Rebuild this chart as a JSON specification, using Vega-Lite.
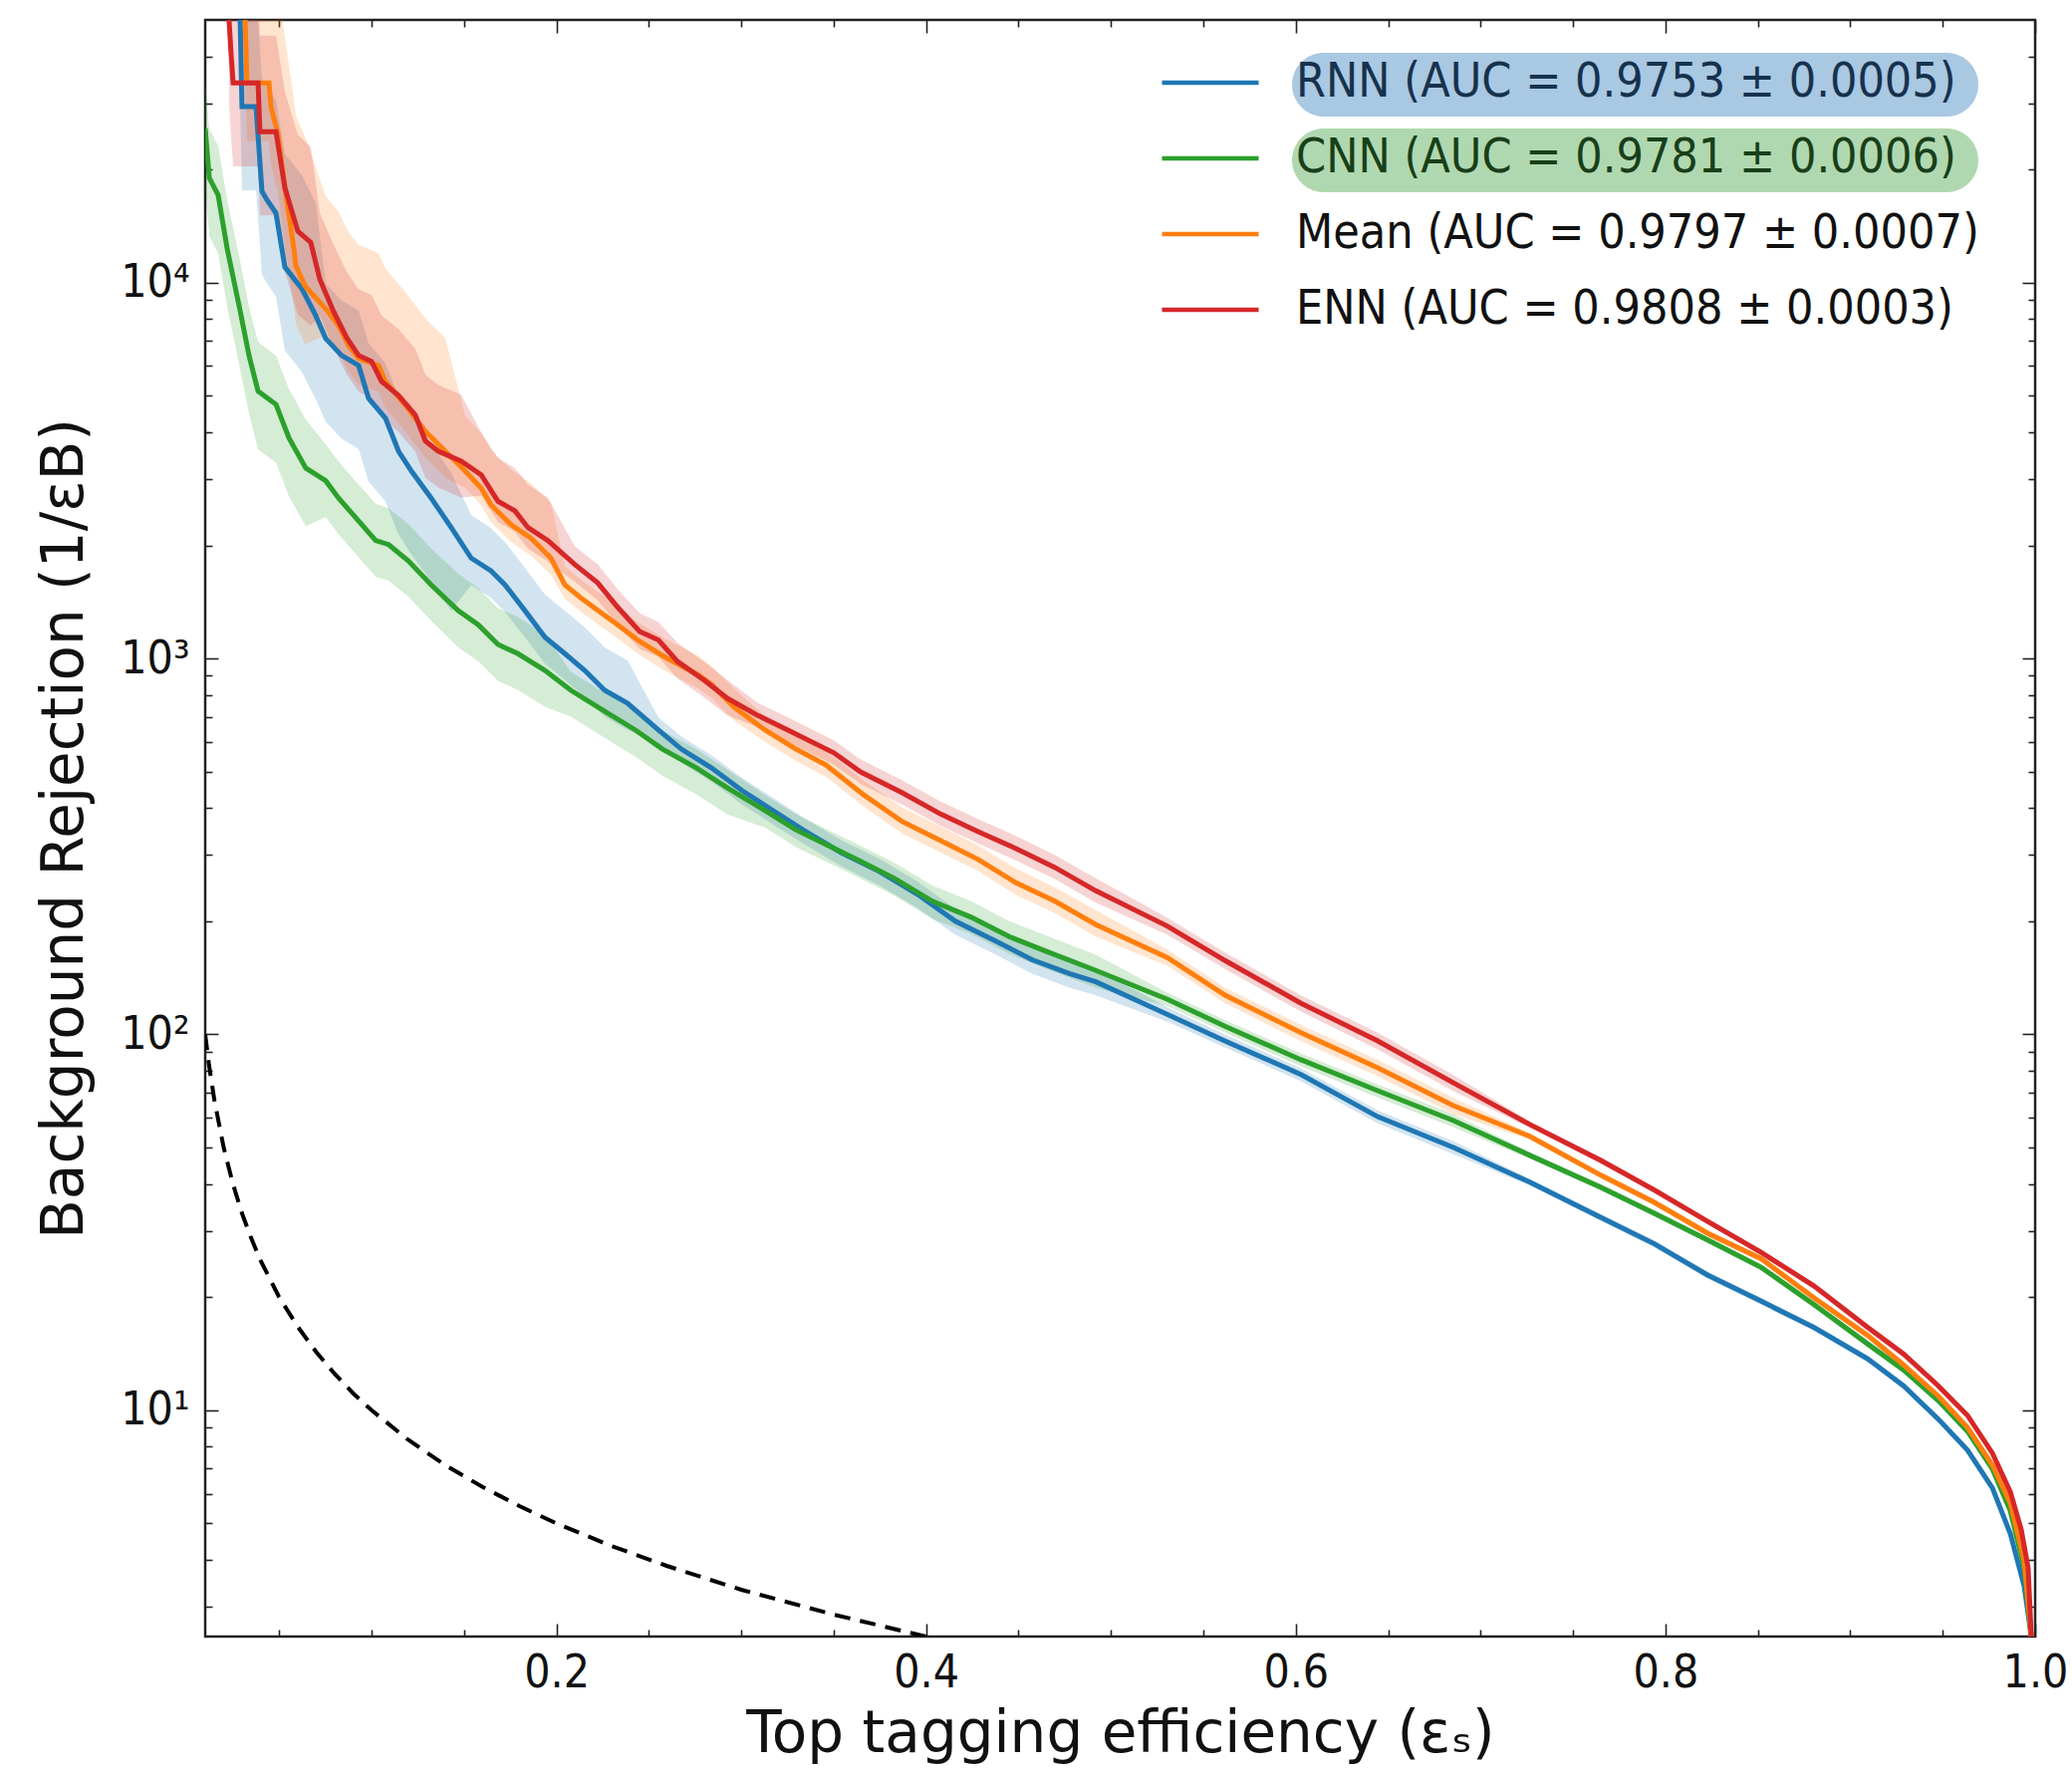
{
  "$schema": "https://vega.github.io/schema/vega-lite/v6.json",
  "width": 1837,
  "height": 1623,
  "autosize": {"type": "none"},
  "padding": {"left": 206, "top": 20, "right": 37, "bottom": 136},
  "background": "white",
  "datasets": {
    "roc": [
      {"model":"RNN","eff":0.0289,"rej":50000,"lo":30000,"hi":100000},
      {"model":"RNN","eff":0.0299,"rej":29400,"lo":17600,"hi":58800},
      {"model":"RNN","eff":0.0375,"rej":29400,"lo":17600,"hi":58800},
      {"model":"RNN","eff":0.0407,"rej":17500,"lo":10500,"hi":35000},
      {"model":"RNN","eff":0.0434,"rej":16600,"lo":9960,"hi":33200},
      {"model":"RNN","eff":0.0483,"rej":15300,"lo":9180,"hi":30600},
      {"model":"RNN","eff":0.0531,"rej":11000,"lo":6600,"hi":22000},
      {"model":"RNN","eff":0.0623,"rej":9630,"lo":5780,"hi":19300},
      {"model":"RNN","eff":0.0698,"rej":8170,"lo":4900,"hi":16300},
      {"model":"RNN","eff":0.0752,"rej":7100,"lo":4260,"hi":9940},
      {"model":"RNN","eff":0.0838,"rej":6400,"lo":3840,"hi":8960},
      {"model":"RNN","eff":0.0930,"rej":6020,"lo":3610,"hi":8430},
      {"model":"RNN","eff":0.0984,"rej":4920,"lo":2950,"hi":6890},
      {"model":"RNN","eff":0.1075,"rej":4360,"lo":2620,"hi":6100},
      {"model":"RNN","eff":0.1146,"rej":3560,"lo":2140,"hi":4980},
      {"model":"RNN","eff":0.1216,"rej":3150,"lo":1890,"hi":4410},
      {"model":"RNN","eff":0.1323,"rej":2670,"lo":1600,"hi":3740},
      {"model":"RNN","eff":0.1431,"rej":2230,"lo":1340,"hi":3120},
      {"model":"RNN","eff":0.1539,"rej":1850,"lo":1570,"hi":2410},
      {"model":"RNN","eff":0.1647,"rej":1710,"lo":1450,"hi":2220},
      {"model":"RNN","eff":0.1722,"rej":1570,"lo":1330,"hi":2040},
      {"model":"RNN","eff":0.1830,"rej":1340,"lo":1140,"hi":1740},
      {"model":"RNN","eff":0.1938,"rej":1140,"lo":969,"hi":1480},
      {"model":"RNN","eff":0.2046,"rej":1030,"lo":876,"hi":1340},
      {"model":"RNN","eff":0.2153,"rej":930,"lo":791,"hi":1210},
      {"model":"RNN","eff":0.2261,"rej":823,"lo":700,"hi":1070},
      {"model":"RNN","eff":0.2385,"rej":760,"lo":646,"hi":988},
      {"model":"RNN","eff":0.2552,"rej":645,"lo":593,"hi":697},
      {"model":"RNN","eff":0.2676,"rej":574,"lo":528,"hi":620},
      {"model":"RNN","eff":0.2838,"rej":512,"lo":471,"hi":553},
      {"model":"RNN","eff":0.3005,"rej":445,"lo":409,"hi":481},
      {"model":"RNN","eff":0.3172,"rej":394,"lo":362,"hi":426},
      {"model":"RNN","eff":0.3334,"rej":350,"lo":322,"hi":378},
      {"model":"RNN","eff":0.3538,"rej":305,"lo":281,"hi":329},
      {"model":"RNN","eff":0.3749,"rej":271,"lo":249,"hi":293},
      {"model":"RNN","eff":0.3953,"rej":236,"lo":217,"hi":255},
      {"model":"RNN","eff":0.4158,"rej":200,"lo":184,"hi":216},
      {"model":"RNN","eff":0.4368,"rej":178,"lo":164,"hi":192},
      {"model":"RNN","eff":0.4573,"rej":158,"lo":145,"hi":171},
      {"model":"RNN","eff":0.4778,"rej":145,"lo":133,"hi":157},
      {"model":"RNN","eff":0.4918,"rej":138,"lo":127,"hi":149},
      {"model":"RNN","eff":0.5306,"rej":113,"lo":108,"hi":118},
      {"model":"RNN","eff":0.5619,"rej":96,"lo":92.2,"hi":99.8},
      {"model":"RNN","eff":0.6028,"rej":78.2,"lo":75.1,"hi":81.3},
      {"model":"RNN","eff":0.6443,"rej":60.4,"lo":58.0,"hi":62.8},
      {"model":"RNN","eff":0.6853,"rej":50.0,"lo":48.0,"hi":52.0},
      {"model":"RNN","eff":0.7268,"rej":40.4,"lo":39.6,"hi":41.2},
      {"model":"RNN","eff":0.7650,"rej":32.6,"lo":31.9,"hi":33.3},
      {"model":"RNN","eff":0.7941,"rej":27.7,"lo":27.1,"hi":28.3},
      {"model":"RNN","eff":0.8227,"rej":22.9,"lo":22.4,"hi":23.4},
      {"model":"RNN","eff":0.8518,"rej":19.5,"lo":19.1,"hi":19.9},
      {"model":"RNN","eff":0.8804,"rej":16.6,"lo":16.3,"hi":16.9},
      {"model":"RNN","eff":0.9095,"rej":13.7,"lo":13.4,"hi":14.0},
      {"model":"RNN","eff":0.9289,"rej":11.6,"lo":11.4,"hi":11.8},
      {"model":"RNN","eff":0.9477,"rej":9.46,"lo":9.27,"hi":9.65},
      {"model":"RNN","eff":0.9634,"rej":7.83,"lo":7.67,"hi":7.99},
      {"model":"RNN","eff":0.9769,"rej":6.21,"lo":6.09,"hi":6.33},
      {"model":"RNN","eff":0.9866,"rej":4.69,"lo":4.60,"hi":4.78},
      {"model":"RNN","eff":0.9941,"rej":3.40,"lo":3.33,"hi":3.47},
      {"model":"RNN","eff":0.9979,"rej":2.5,"lo":2.45,"hi":2.55},
      {"model":"RNN","eff":1.0,"rej":1,"lo":1,"hi":1},

      {"model":"CNN","eff":0.0100,"rej":25700,"lo":18000,"hi":34700},
      {"model":"CNN","eff":0.0122,"rej":19000,"lo":13300,"hi":25700},
      {"model":"CNN","eff":0.0170,"rej":17100,"lo":12000,"hi":23100},
      {"model":"CNN","eff":0.0219,"rej":12300,"lo":8610,"hi":16600},
      {"model":"CNN","eff":0.0289,"rej":8420,"lo":5890,"hi":11400},
      {"model":"CNN","eff":0.0337,"rej":6400,"lo":4480,"hi":8640},
      {"model":"CNN","eff":0.0386,"rej":5140,"lo":3600,"hi":6940},
      {"model":"CNN","eff":0.0483,"rej":4740,"lo":3320,"hi":6400},
      {"model":"CNN","eff":0.0553,"rej":3860,"lo":2700,"hi":5210},
      {"model":"CNN","eff":0.0644,"rej":3210,"lo":2250,"hi":4330},
      {"model":"CNN","eff":0.0752,"rej":2970,"lo":2380,"hi":3710},
      {"model":"CNN","eff":0.0822,"rej":2670,"lo":2140,"hi":3340},
      {"model":"CNN","eff":0.0914,"rej":2370,"lo":1900,"hi":2960},
      {"model":"CNN","eff":0.1022,"rej":2060,"lo":1650,"hi":2580},
      {"model":"CNN","eff":0.1092,"rej":2010,"lo":1610,"hi":2510},
      {"model":"CNN","eff":0.1199,"rej":1820,"lo":1460,"hi":2280},
      {"model":"CNN","eff":0.1323,"rej":1570,"lo":1260,"hi":1960},
      {"model":"CNN","eff":0.1469,"rej":1340,"lo":1070,"hi":1680},
      {"model":"CNN","eff":0.1577,"rej":1230,"lo":984,"hi":1540},
      {"model":"CNN","eff":0.1684,"rej":1090,"lo":872,"hi":1360},
      {"model":"CNN","eff":0.1792,"rej":1030,"lo":824,"hi":1290},
      {"model":"CNN","eff":0.1938,"rej":930,"lo":744,"hi":1160},
      {"model":"CNN","eff":0.2078,"rej":823,"lo":700,"hi":922},
      {"model":"CNN","eff":0.2261,"rej":724,"lo":615,"hi":811},
      {"model":"CNN","eff":0.2428,"rej":645,"lo":548,"hi":722},
      {"model":"CNN","eff":0.2574,"rej":574,"lo":488,"hi":643},
      {"model":"CNN","eff":0.2757,"rej":512,"lo":435,"hi":573},
      {"model":"CNN","eff":0.2924,"rej":453,"lo":385,"hi":507},
      {"model":"CNN","eff":0.3129,"rej":394,"lo":355,"hi":433},
      {"model":"CNN","eff":0.3296,"rej":350,"lo":315,"hi":385},
      {"model":"CNN","eff":0.3458,"rej":320,"lo":288,"hi":352},
      {"model":"CNN","eff":0.3625,"rej":292,"lo":263,"hi":321},
      {"model":"CNN","eff":0.3829,"rej":260,"lo":234,"hi":286},
      {"model":"CNN","eff":0.4034,"rej":226,"lo":203,"hi":249},
      {"model":"CNN","eff":0.4244,"rej":205,"lo":185,"hi":226},
      {"model":"CNN","eff":0.4449,"rej":182,"lo":164,"hi":200},
      {"model":"CNN","eff":0.4654,"rej":166,"lo":149,"hi":183},
      {"model":"CNN","eff":0.4918,"rej":148,"lo":133,"hi":163},
      {"model":"CNN","eff":0.5306,"rej":124,"lo":119,"hi":129},
      {"model":"CNN","eff":0.5619,"rej":105,"lo":101,"hi":109},
      {"model":"CNN","eff":0.6028,"rej":85.6,"lo":82.2,"hi":89.0},
      {"model":"CNN","eff":0.6443,"rej":70.8,"lo":68.0,"hi":73.6},
      {"model":"CNN","eff":0.6853,"rej":59.0,"lo":56.6,"hi":61.4},
      {"model":"CNN","eff":0.7268,"rej":47.6,"lo":46.6,"hi":48.6},
      {"model":"CNN","eff":0.7650,"rej":39.2,"lo":38.4,"hi":40.0},
      {"model":"CNN","eff":0.7941,"rej":33.4,"lo":32.7,"hi":34.1},
      {"model":"CNN","eff":0.8227,"rej":28.4,"lo":27.8,"hi":29.0},
      {"model":"CNN","eff":0.8518,"rej":24.0,"lo":23.5,"hi":24.5},
      {"model":"CNN","eff":0.8804,"rej":19.1,"lo":18.7,"hi":19.5},
      {"model":"CNN","eff":0.9095,"rej":15.0,"lo":14.7,"hi":15.3},
      {"model":"CNN","eff":0.9289,"rej":12.8,"lo":12.5,"hi":13.1},
      {"model":"CNN","eff":0.9477,"rej":10.6,"lo":10.4,"hi":10.8},
      {"model":"CNN","eff":0.9634,"rej":8.79,"lo":8.61,"hi":8.97},
      {"model":"CNN","eff":0.9769,"rej":6.97,"lo":6.83,"hi":7.11},
      {"model":"CNN","eff":0.9866,"rej":5.39,"lo":5.28,"hi":5.50},
      {"model":"CNN","eff":0.9941,"rej":3.81,"lo":3.73,"hi":3.89},
      {"model":"CNN","eff":0.9979,"rej":2.5,"lo":2.45,"hi":2.55},
      {"model":"CNN","eff":1.0,"rej":1,"lo":1,"hi":1},

      {"model":"Mean","eff":0.0316,"rej":50000,"lo":35000,"hi":125000},
      {"model":"Mean","eff":0.0326,"rej":34000,"lo":23800,"hi":85000},
      {"model":"Mean","eff":0.0445,"rej":34000,"lo":23800,"hi":85000},
      {"model":"Mean","eff":0.0456,"rej":29400,"lo":20600,"hi":73500},
      {"model":"Mean","eff":0.0493,"rej":24900,"lo":17400,"hi":62300},
      {"model":"Mean","eff":0.0531,"rej":17900,"lo":12500,"hi":44800},
      {"model":"Mean","eff":0.0580,"rej":12300,"lo":8610,"hi":30800},
      {"model":"Mean","eff":0.0590,"rej":11100,"lo":7770,"hi":27800},
      {"model":"Mean","eff":0.0640,"rej":9800,"lo":6860,"hi":24500},
      {"model":"Mean","eff":0.0752,"rej":8520,"lo":7240,"hi":17000},
      {"model":"Mean","eff":0.0822,"rej":7680,"lo":6530,"hi":15400},
      {"model":"Mean","eff":0.0876,"rej":6800,"lo":5780,"hi":13600},
      {"model":"Mean","eff":0.0930,"rej":6280,"lo":5340,"hi":12600},
      {"model":"Mean","eff":0.1038,"rej":6020,"lo":5120,"hi":12000},
      {"model":"Mean","eff":0.1075,"rej":5460,"lo":4640,"hi":10900},
      {"model":"Mean","eff":0.1183,"rej":4720,"lo":4010,"hi":9440},
      {"model":"Mean","eff":0.1291,"rej":4020,"lo":3420,"hi":8040},
      {"model":"Mean","eff":0.1399,"rej":3560,"lo":3030,"hi":7120},
      {"model":"Mean","eff":0.1507,"rej":3150,"lo":2840,"hi":4410},
      {"model":"Mean","eff":0.1593,"rej":2840,"lo":2560,"hi":3980},
      {"model":"Mean","eff":0.1647,"rej":2560,"lo":2300,"hi":3580},
      {"model":"Mean","eff":0.1755,"rej":2270,"lo":2040,"hi":3180},
      {"model":"Mean","eff":0.1862,"rej":2090,"lo":1880,"hi":2930},
      {"model":"Mean","eff":0.1970,"rej":1850,"lo":1670,"hi":2590},
      {"model":"Mean","eff":0.2046,"rej":1570,"lo":1440,"hi":1760},
      {"model":"Mean","eff":0.2132,"rej":1450,"lo":1330,"hi":1620},
      {"model":"Mean","eff":0.2331,"rej":1230,"lo":1130,"hi":1380},
      {"model":"Mean","eff":0.2439,"rej":1120,"lo":1030,"hi":1250},
      {"model":"Mean","eff":0.2585,"rej":1010,"lo":929,"hi":1130},
      {"model":"Mean","eff":0.2762,"rej":908,"lo":835,"hi":1020},
      {"model":"Mean","eff":0.2838,"rej":854,"lo":786,"hi":956},
      {"model":"Mean","eff":0.2962,"rej":742,"lo":683,"hi":831},
      {"model":"Mean","eff":0.3129,"rej":645,"lo":600,"hi":703},
      {"model":"Mean","eff":0.3296,"rej":574,"lo":534,"hi":626},
      {"model":"Mean","eff":0.3458,"rej":521,"lo":485,"hi":568},
      {"model":"Mean","eff":0.3662,"rej":434,"lo":404,"hi":473},
      {"model":"Mean","eff":0.3872,"rej":368,"lo":342,"hi":401},
      {"model":"Mean","eff":0.4077,"rej":328,"lo":305,"hi":358},
      {"model":"Mean","eff":0.4282,"rej":292,"lo":272,"hi":318},
      {"model":"Mean","eff":0.4487,"rej":253,"lo":235,"hi":276},
      {"model":"Mean","eff":0.4697,"rej":226,"lo":210,"hi":246},
      {"model":"Mean","eff":0.4918,"rej":196,"lo":182,"hi":214},
      {"model":"Mean","eff":0.5306,"rej":160,"lo":152,"hi":168},
      {"model":"Mean","eff":0.5619,"rej":127,"lo":121,"hi":133},
      {"model":"Mean","eff":0.6028,"rej":101,"lo":96,"hi":106},
      {"model":"Mean","eff":0.6443,"rej":81.5,"lo":77.4,"hi":85.6},
      {"model":"Mean","eff":0.6853,"rej":64.6,"lo":61.4,"hi":67.8},
      {"model":"Mean","eff":0.7268,"rej":53.5,"lo":52.4,"hi":54.6},
      {"model":"Mean","eff":0.7650,"rej":42.2,"lo":41.4,"hi":43.0},
      {"model":"Mean","eff":0.7941,"rej":35.7,"lo":35.0,"hi":36.4},
      {"model":"Mean","eff":0.8227,"rej":29.6,"lo":29.0,"hi":30.2},
      {"model":"Mean","eff":0.8518,"rej":25.3,"lo":24.8,"hi":25.8},
      {"model":"Mean","eff":0.8804,"rej":19.9,"lo":19.5,"hi":20.3},
      {"model":"Mean","eff":0.9095,"rej":15.8,"lo":15.5,"hi":16.1},
      {"model":"Mean","eff":0.9289,"rej":13.2,"lo":12.9,"hi":13.5},
      {"model":"Mean","eff":0.9477,"rej":10.9,"lo":10.7,"hi":11.1},
      {"model":"Mean","eff":0.9634,"rej":9.0,"lo":8.82,"hi":9.18},
      {"model":"Mean","eff":0.9769,"rej":7.14,"lo":7.0,"hi":7.28},
      {"model":"Mean","eff":0.9866,"rej":5.66,"lo":5.55,"hi":5.77},
      {"model":"Mean","eff":0.9941,"rej":3.97,"lo":3.89,"hi":4.05},
      {"model":"Mean","eff":0.9979,"rej":2.5,"lo":2.45,"hi":2.55},
      {"model":"Mean","eff":1.0,"rej":1,"lo":1,"hi":1},

      {"model":"ENN","eff":0.0229,"rej":50000,"lo":30000,"hi":90000},
      {"model":"ENN","eff":0.0240,"rej":40600,"lo":24400,"hi":73100},
      {"model":"ENN","eff":0.0251,"rej":34000,"lo":20400,"hi":61200},
      {"model":"ENN","eff":0.0386,"rej":34000,"lo":20400,"hi":61200},
      {"model":"ENN","eff":0.0396,"rej":25200,"lo":15100,"hi":45400},
      {"model":"ENN","eff":0.0483,"rej":25200,"lo":15100,"hi":45400},
      {"model":"ENN","eff":0.0531,"rej":17900,"lo":10700,"hi":32200},
      {"model":"ENN","eff":0.0601,"rej":13700,"lo":8220,"hi":24700},
      {"model":"ENN","eff":0.0671,"rej":12800,"lo":7680,"hi":23000},
      {"model":"ENN","eff":0.0720,"rej":10200,"lo":8160,"hi":15300},
      {"model":"ENN","eff":0.0795,"rej":8370,"lo":6700,"hi":12600},
      {"model":"ENN","eff":0.0865,"rej":7140,"lo":5710,"hi":10700},
      {"model":"ENN","eff":0.0930,"rej":6400,"lo":5120,"hi":9600},
      {"model":"ENN","eff":0.1000,"rej":6170,"lo":4940,"hi":9260},
      {"model":"ENN","eff":0.1054,"rej":5460,"lo":4370,"hi":8190},
      {"model":"ENN","eff":0.1146,"rej":5010,"lo":4010,"hi":7520},
      {"model":"ENN","eff":0.1237,"rej":4440,"lo":3550,"hi":6660},
      {"model":"ENN","eff":0.1291,"rej":3790,"lo":3030,"hi":5690},
      {"model":"ENN","eff":0.1361,"rej":3560,"lo":2850,"hi":5340},
      {"model":"ENN","eff":0.1485,"rej":3350,"lo":2680,"hi":5030},
      {"model":"ENN","eff":0.1593,"rej":3080,"lo":2710,"hi":4000},
      {"model":"ENN","eff":0.1684,"rej":2620,"lo":2310,"hi":3410},
      {"model":"ENN","eff":0.1776,"rej":2470,"lo":2170,"hi":3210},
      {"model":"ENN","eff":0.1846,"rej":2230,"lo":1960,"hi":2900},
      {"model":"ENN","eff":0.1954,"rej":2060,"lo":1810,"hi":2680},
      {"model":"ENN","eff":0.2099,"rej":1780,"lo":1600,"hi":1990},
      {"model":"ENN","eff":0.2223,"rej":1590,"lo":1430,"hi":1780},
      {"model":"ENN","eff":0.2331,"rej":1370,"lo":1230,"hi":1530},
      {"model":"ENN","eff":0.2450,"rej":1180,"lo":1060,"hi":1320},
      {"model":"ENN","eff":0.2552,"rej":1120,"lo":1010,"hi":1250},
      {"model":"ENN","eff":0.2655,"rej":982,"lo":884,"hi":1100},
      {"model":"ENN","eff":0.2800,"rej":875,"lo":788,"hi":980},
      {"model":"ENN","eff":0.2924,"rej":784,"lo":706,"hi":878},
      {"model":"ENN","eff":0.3086,"rej":707,"lo":658,"hi":764},
      {"model":"ENN","eff":0.3253,"rej":645,"lo":600,"hi":697},
      {"model":"ENN","eff":0.3501,"rej":561,"lo":522,"hi":606},
      {"model":"ENN","eff":0.3646,"rej":499,"lo":464,"hi":539},
      {"model":"ENN","eff":0.3872,"rej":439,"lo":408,"hi":474},
      {"model":"ENN","eff":0.4077,"rej":386,"lo":359,"hi":417},
      {"model":"ENN","eff":0.4282,"rej":346,"lo":322,"hi":374},
      {"model":"ENN","eff":0.4487,"rej":312,"lo":290,"hi":337},
      {"model":"ENN","eff":0.4697,"rej":278,"lo":259,"hi":300},
      {"model":"ENN","eff":0.4918,"rej":241,"lo":224,"hi":260},
      {"model":"ENN","eff":0.5306,"rej":194,"lo":184,"hi":204},
      {"model":"ENN","eff":0.5619,"rej":157,"lo":149,"hi":165},
      {"model":"ENN","eff":0.6028,"rej":121,"lo":115,"hi":127},
      {"model":"ENN","eff":0.6443,"rej":96.1,"lo":91.3,"hi":101},
      {"model":"ENN","eff":0.6853,"rej":74.3,"lo":70.6,"hi":78.0},
      {"model":"ENN","eff":0.7268,"rej":57.5,"lo":56.4,"hi":58.7},
      {"model":"ENN","eff":0.7650,"rej":46.2,"lo":45.3,"hi":47.1},
      {"model":"ENN","eff":0.7941,"rej":38.5,"lo":37.7,"hi":39.3},
      {"model":"ENN","eff":0.8227,"rej":31.8,"lo":31.2,"hi":32.4},
      {"model":"ENN","eff":0.8518,"rej":26.3,"lo":25.8,"hi":26.8},
      {"model":"ENN","eff":0.8804,"rej":21.4,"lo":21.0,"hi":21.8},
      {"model":"ENN","eff":0.9095,"rej":16.6,"lo":16.3,"hi":16.9},
      {"model":"ENN","eff":0.9289,"rej":14.1,"lo":13.8,"hi":14.4},
      {"model":"ENN","eff":0.9477,"rej":11.6,"lo":11.4,"hi":11.8},
      {"model":"ENN","eff":0.9634,"rej":9.69,"lo":9.5,"hi":9.88},
      {"model":"ENN","eff":0.9769,"rej":7.69,"lo":7.54,"hi":7.84},
      {"model":"ENN","eff":0.9866,"rej":6.06,"lo":5.94,"hi":6.18},
      {"model":"ENN","eff":0.9925,"rej":4.81,"lo":4.71,"hi":4.91},
      {"model":"ENN","eff":0.9962,"rej":3.81,"lo":3.73,"hi":3.89},
      {"model":"ENN","eff":0.9979,"rej":2.5,"lo":2.45,"hi":2.55},
      {"model":"ENN","eff":1.0,"rej":1,"lo":1,"hi":1}
    ],
    "chance": [
      {"eff":0.01,"rej":100},
      {"eff":0.012,"rej":83.3},
      {"eff":0.015,"rej":66.7},
      {"eff":0.02,"rej":50},
      {"eff":0.025,"rej":40},
      {"eff":0.03,"rej":33.3},
      {"eff":0.035,"rej":28.6},
      {"eff":0.04,"rej":25},
      {"eff":0.05,"rej":20},
      {"eff":0.06,"rej":16.7},
      {"eff":0.07,"rej":14.3},
      {"eff":0.08,"rej":12.5},
      {"eff":0.09,"rej":11.1},
      {"eff":0.1,"rej":10},
      {"eff":0.12,"rej":8.33},
      {"eff":0.14,"rej":7.14},
      {"eff":0.16,"rej":6.25},
      {"eff":0.18,"rej":5.56},
      {"eff":0.2,"rej":5},
      {"eff":0.23,"rej":4.35},
      {"eff":0.26,"rej":3.85},
      {"eff":0.3,"rej":3.33},
      {"eff":0.35,"rej":2.86},
      {"eff":0.4,"rej":2.5}
    ],
    "auc": [
      {"model":"RNN","auc":0.9753,"err":0.0005},
      {"model":"CNN","auc":0.9781,"err":0.0006},
      {"model":"Mean","auc":0.9797,"err":0.0007},
      {"model":"ENN","auc":0.9808,"err":0.0003}
    ]
  },
  "layer": [
    {
      "data": {"name": "auc"},
      "mark": {"type": "point", "size": 0, "filled": true, "opacity": 1},
      "encoding": {
        "fill": {
          "field": "auc", "type": "nominal",
          "scale": {"range": ["#a9c8e2","#b0d8b0","transparent","transparent"]},
          "legend": {
            "orient": "none",
            "legendX": 1091,
            "legendY": 33,
            "direction": "vertical",
            "title": null,
            "padding": 0,
            "symbolType": "M -0.907 -0.093 L 0.907 -0.093 A 0.093 0.093 0 0 1 0.907 0.093 L -0.907 0.093 A 0.093 0.093 0 0 1 -0.907 -0.093 Z",
            "symbolSize": 474721,
            "symbolStrokeWidth": 0,
            "symbolOpacity": 1,
            "clipHeight": 64,
            "labelExpr": "''",
            "labelFontSize": 1,
            "labelOffset": 0,
            "rowPadding": 12
          }
        }
      }
    },
    {
      "data": {"name": "roc"},
      "mark": {"type": "area", "opacity": 0.2, "clip": true},
      "encoding": {
        "x": {
          "field": "eff", "type": "quantitative",
          "scale": {"domain": [0.01, 1], "nice": false, "zero": false},
          "axis": {
            "orient": "bottom",
            "values": [0.05,0.1,0.15,0.2,0.25,0.3,0.35,0.4,0.45,0.5,0.55,0.6,0.65,0.7,0.75,0.8,0.85,0.9,0.95,1.0],
            "labelExpr": "indexof([0.2,0.4,0.6,0.8,1], datum.value) >= 0 ? format(datum.value, '.1f') : ''",
            "tickSize": {"condition": {"test": "indexof([0.2,0.4,0.6,0.8,1], datum.value) >= 0", "value": -13}, "value": -7},
            "labelPadding": 27,
            "labelFlush": false,
            "labelOverlap": false,
            "title": "Top tagging efficiency (εₛ)",
            "titlePadding": 4
          }
        },
        "y": {
          "field": "lo", "type": "quantitative",
          "scale": {"type": "log", "domain": [2.5, 50000], "nice": false},
          "axis": {
            "orient": "left",
            "values": [3,4,5,6,7,8,9,10,20,30,40,50,60,70,80,90,100,200,300,400,500,600,700,800,900,1000,2000,3000,4000,5000,6000,7000,8000,9000,10000,20000,30000,40000],
            "labelExpr": "datum.value == 10 ? '10¹' : datum.value == 100 ? '10²' : datum.value == 1000 ? '10³' : datum.value == 10000 ? '10⁴' : ''",
            "tickSize": {"condition": {"test": "indexof([10,100,1000,10000], datum.value) >= 0", "value": -13}, "value": -7},
            "labelPadding": 29,
            "labelFlush": false,
            "labelOverlap": false,
            "title": "Background Rejection (1/εB)",
            "titlePadding": 26
          }
        },
        "y2": {"field": "hi"},
        "color": {
          "field": "model", "type": "nominal",
          "scale": {"domain": ["CNN","ENN","Mean","RNN"], "range": ["#2ca02c","#d62728","#ff7f0e","#1f77b4"]},
          "legend": null
        }
      }
    },
    {
      "data": {"name": "roc"},
      "mark": {"type": "line", "strokeWidth": 5, "clip": true},
      "encoding": {
        "x": {"field": "eff", "type": "quantitative", "axis": null},
        "y": {"field": "rej", "type": "quantitative", "axis": null},
        "stroke": {
          "field": "model", "type": "nominal",
          "scale": {"domain": ["RNN","CNN","Mean","ENN"], "range": ["#1f77b4","#2ca02c","#ff7f0e","#d62728"]},
          "legend": {
            "orient": "none",
            "legendX": 958,
            "legendY": 39,
            "direction": "vertical",
            "title": null,
            "padding": 0,
            "symbolType": "stroke",
            "symbolSize": 9409,
            "symbolStrokeWidth": 4.5,
            "clipHeight": 48,
            "labelFont": "DejaVu Sans Condensed, DejaVu Sans",
            "labelFontSize": 48,
            "labelLimit": 0,
            "labelOffset": 35,
            "labelBaseline": "middle",
            "rowPadding": 28,
            "labelExpr": "datum.value == 'RNN' ? 'RNN (AUC = 0.9753 ± 0.0005)' : datum.value == 'CNN' ? 'CNN (AUC = 0.9781 ± 0.0006)' : datum.value == 'Mean' ? 'Mean (AUC = 0.9797 ± 0.0007)' : 'ENN (AUC = 0.9808 ± 0.0003)'",
            "encode": {
              "labels": {"update": {"fill": {"signal": "datum.value == 'RNN' ? '#16324d' : datum.value == 'CNN' ? '#183f18' : '#111111'"}}}
            }
          }
        }
      }
    },
    {
      "data": {"name": "chance"},
      "mark": {"type": "line", "color": "#000000", "strokeWidth": 4, "strokeDash": [16, 10], "clip": true},
      "encoding": {
        "x": {
          "field": "eff", "type": "quantitative",
          "axis": {
            "orient": "top",
            "values": [0.05,0.1,0.15,0.2,0.25,0.3,0.35,0.4,0.45,0.5,0.55,0.6,0.65,0.7,0.75,0.8,0.85,0.9,0.95,1.0],
            "labels": false,
            "tickSize": {"condition": {"test": "indexof([0.2,0.4,0.6,0.8,1], datum.value) >= 0", "value": -13}, "value": -7},
            "title": null
          }
        },
        "y": {
          "field": "rej", "type": "quantitative",
          "axis": {
            "orient": "right",
            "values": [3,4,5,6,7,8,9,10,20,30,40,50,60,70,80,90,100,200,300,400,500,600,700,800,900,1000,2000,3000,4000,5000,6000,7000,8000,9000,10000,20000,30000,40000],
            "labels": false,
            "tickSize": {"condition": {"test": "indexof([10,100,1000,10000], datum.value) >= 0", "value": -13}, "value": -7},
            "title": null
          }
        }
      }
    }
  ],
  "resolve": {"axis": {"x": "independent", "y": "independent"}},
  "config": {
    "view": {"stroke": "#222222", "strokeWidth": 2.5},
    "axis": {
      "domain": false,
      "grid": false,
      "tickColor": "#222222",
      "tickWidth": 1.6,
      "labelFont": "DejaVu Sans Condensed, DejaVu Sans",
      "labelFontSize": 46,
      "labelColor": "#111111",
      "titleFont": "DejaVu Sans",
      "titleFontSize": 58,
      "titleFontWeight": "normal",
      "titleColor": "#111111"
    }
  }
}
